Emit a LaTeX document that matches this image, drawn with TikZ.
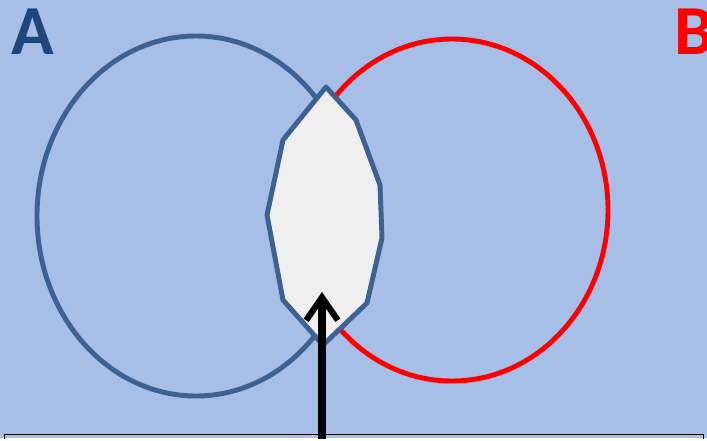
\documentclass[tikz,border=0pt]{standalone}
\usepackage{fontspec}
\setmainfont{Carlito}
\usetikzlibrary{arrows.meta}
\definecolor{bgblue}{HTML}{A7BEE6}
\definecolor{setblue}{HTML}{3C6192}
\definecolor{letterblue}{HTML}{1F477C}
\definecolor{setred}{HTML}{FF0000}
\definecolor{lensgray}{HTML}{EFEFEF}
\tikzset{
  setline/.style={line width=2.8pt},
  setlabel/.style={font=\fontsize{40}{40}\selectfont\bfseries, inner sep=0pt, anchor=north west},
}
\begin{document}
\begin{tikzpicture}[x=0.02cm,y=-0.02cm]
  \path
  (0,0) coordinate (NW)
  (707,438) coordinate (SE)
  (196,216) coordinate (A)
  (452,210) coordinate (B)
  (322,440) coordinate (foot)
  (322,292) coordinate (tip);

  \useasboundingbox (NW) rectangle (SE);
  \clip (NW) rectangle (SE);
  \fill[bgblue] (NW) rectangle (SE);

  \draw[setline,setblue] (A) ellipse [x radius=159, y radius=180];
  \draw[setline,setred] (B) ellipse [x radius=156, y radius=171];

  % intersection
  \draw[setline,setblue,fill=lensgray,line join=round]
  (326,87)--(356,120)--(380,185)--(382,238)--(367,303)--(323,345)
  --(283,300)--(267,215)--(283,140)--cycle;

  \draw[line width=4pt,-{Straight Barb[length=13pt,width=18pt,line width=3.5pt]}] (foot)--(tip);

  \draw[black,line width=0.5pt] (4,434) rectangle (703,460);

  \node[setlabel,text=letterblue] (labelA) at (11,9) {A};
  \node[setlabel,text=setred] (labelB) at (674,9) {B};
\end{tikzpicture}
\end{document}
